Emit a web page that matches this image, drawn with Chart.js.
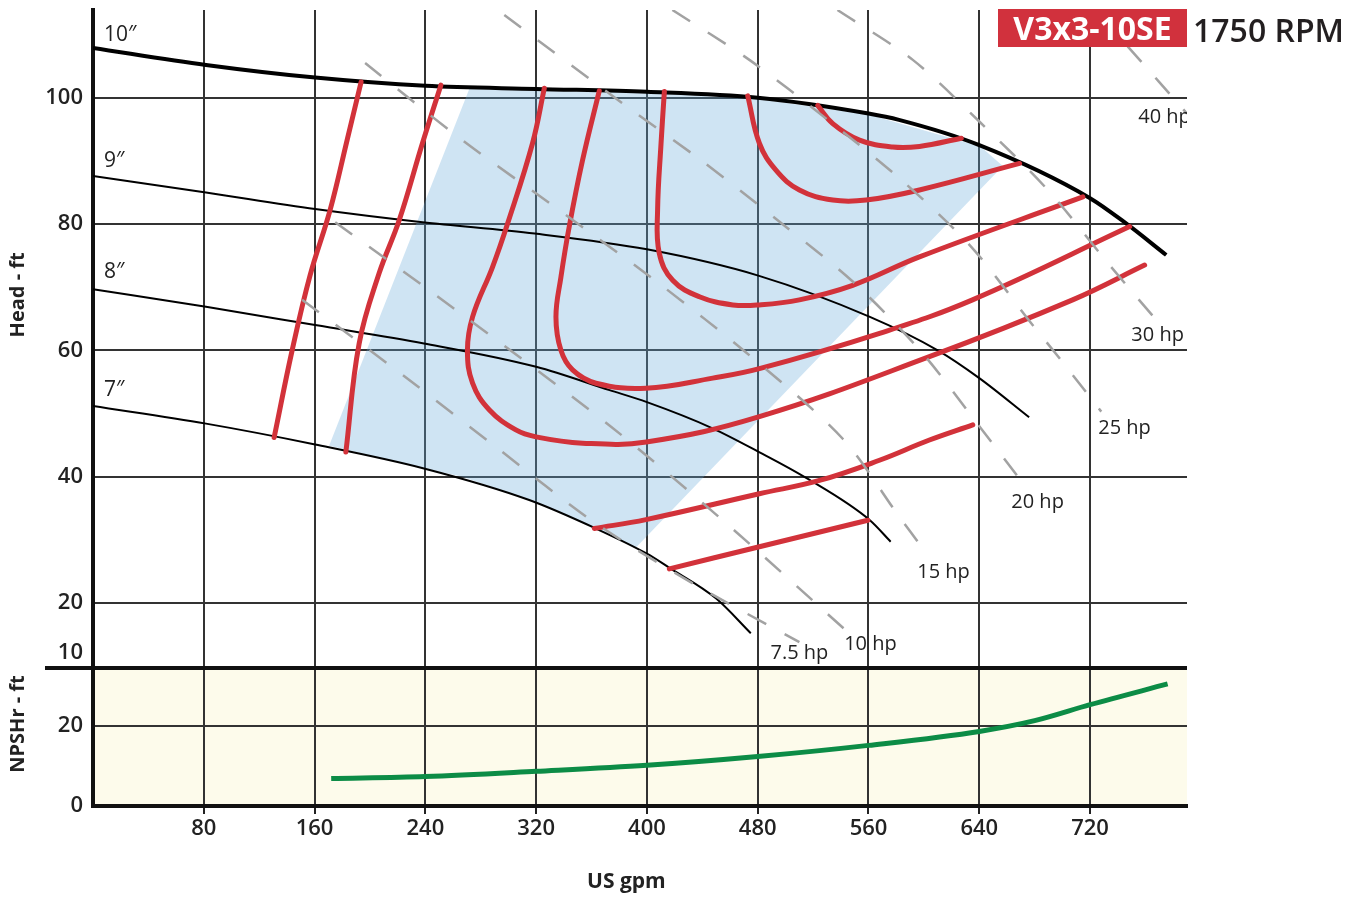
<!DOCTYPE html>
<html>
<head>
<meta charset="utf-8">
<script src="https://cdn.jsdelivr.net/npm/chart.js@4.4.1/dist/chart.umd.min.js"></script>
<style>
  body { margin: 0; background: #fff; font-family: 'Open Sans', sans-serif; }
  #wrap { position: relative; width: 1364px; height: 899px; }
  #pumpChart { position: absolute; left: 0; top: 0; }
  .model { position: absolute; left: 998px; top: 9px; width: 189px; height: 38px; background: #d1313d;
           color: #fff; font: 700 32px 'Open Sans'; line-height: 38px; text-align: center; }
  .rpm { position: absolute; left: 1193px; top: 8px; line-height: 38px; font: 600 32px 'Open Sans'; color: #231f20; }
</style>
</head>
<body>
<div id="wrap">
  <canvas id="pumpChart" width="1364" height="899"></canvas>
  <div class="model">V3x3-10SE</div>
  <div class="rpm">1750 RPM</div>
</div>
<script>
// ticks
const xTickValues = [0, 80, 160, 240, 320, 400, 480, 560, 640, 720];
const headTickValues = [10, 20, 40, 60, 80, 100];
const npshTickValues = [0, 20];

// impeller curves [gpm, head ft]
const dia10 = [[0,107.9],[81.6,105.2],[160.4,103.2],[240,101.9],[320,101.4],[400,100.95],[480,100.0],[560,97.5],[582,96.5],[640,92.5],[720,84.1],[746,80.1],[775,75.1]];
const dia9 = [[0,87.6],[81.6,85.0],[160.4,82.4],[238,80.3],[319,78.5],[400,76.0],[481,71.8],[561,65.3],[610,60.0],[640,55.6],[676,49.4]];
const dia8 = [[0,69.7],[81.6,66.9],[160.4,64.0],[239,61.1],[320,57.4],[373,53.7],[400,51.8],[447,47.7],[481,43.9],[515,39.8],[561,33.1],[576,29.7]];
const dia7 = [[0,51.2],[81.6,48.4],[160.4,45.1],[239,41.3],[315,36.3],[363,31.8],[400,27.8],[416,25.6],[450,20.7],[475,15.2]];
const diaLabels = [['10″', 8, 109.9], ['9″', 8, 90.0], ['8″', 8, 72.4], ['7″', 8, 53.7]];

// efficiency curves [gpm, head ft]
const eff1 = [[130.8,46.2],[143.8,60],[156.8,71.9],[171.2,82.2],[183.5,93.3],[193.6,102.5]];
const eff2 = [[182.6,43.9],[192.2,61.1],[206.6,72.2],[221.1,80.6],[237.9,92.8],[251.2,102.0]];
const eff3 = [[325.9,101.5],[317.4,92.8],[299.4,80.1],[288.5,73.2],[274.1,65.3],[270.4,60.0],[274.1,54.8],[286.1,50.6],[305.4,47.4],[319.9,46.3],[353.5,45.3],[399.6,45.5],[481.2,49.5],[604,59.0],[707.4,68.0],[759.4,73.5]];
const eff4 = [[365.6,101.1],[353.5,90.1],[343.9,79.6],[337.9,71.6],[334.3,65.3],[337.9,60.0],[346.3,56.9],[363.2,54.8],[399.3,54.0],[447.5,55.6],[481.2,57.1],[568,62.7],[635.1,68.0],[748.6,79.6]];
const eff5 = [[412.6,101.0],[410.2,92.8],[407.7,82.2],[408.9,75.4],[418.6,71.1],[437.9,68.5],[462,67.2],[481.2,67.2],[510.1,68.0],[548.6,70.3],[596.8,74.8],[714.8,84.3]];
const eff6 = [[472.8,100.3],[481.2,92.8],[493.3,88.5],[510.1,85.4],[534.2,83.8],[558.3,83.8],[596.8,85.4],[669.1,89.6]];
const eff7 = [[523.3,98.8],[534.2,95.9],[553.5,93.3],[577.5,92.2],[596.8,92.3],[627,93.6]];
const eff8 = [[362,31.8],[399.3,33.2],[481.2,37.3],[524.6,39.4],[567.9,42.6],[604,45.8],[635.3,48.2]];
const eff9 = [[416.2,25.4],[481.2,28.9],[559.5,33.1]];

// preferred operating region
const bestRegion = [[271.7,101.4],[170.5,44.9],[239.2,41.3],[266.6,40.0],[315,36.3],[336.7,34.5],[363.2,31.8],[392.1,28.8],[657,89.2],[640.9,92.3],[560.7,97.3],[480.5,99.8],[400,100.8],[320,101.2],[271.7,101.4]];

// power lines
const hp7_5 = [[151,68.0],[223.6,56.1],[292.1,44.5],[361.8,32.8],[435.5,22.8],[510.1,13.8]];
const hp10 = [[174.9,80.3],[262.1,66.4],[374.1,47.9],[454.7,33.1],[545,15.4]];
const hp15 = [[196.5,105.5],[266.6,93.3],[336.7,82.2],[407.5,70.8],[475.2,59.0],[541.4,46.0],[582.4,33.6],[599,28.7]];
const hp20 = [[297,113.1],[382.4,99.1],[439.1,90.1],[494.4,80.6],[548.6,70.9],[598,59.8],[641.4,47.6],[672.7,38.6]];
const hp25 = [[418.4,113.9],[474,106],[529.4,96.7],[583.6,87.0],[634.2,76.4],[677.5,64.3],[699.2,58.4],[728.1,50.3]];
const hp30 = [[537.6,113.9],[592,106],[640.2,96.2],[689.5,85.4],[734.1,73.5],[769,64.5]];
const hp40 = [[726.9,113.1],[755.8,106],[783.2,99.2],[790,97.5]];
const hpLabels = [['7.5 hp',510.1,12.0],['10 hp',561.4,13.4],['15 hp',614.2,24.9],['20 hp',682.1,36.0],['25 hp',744.9,47.7],['30 hp',768.8,62.4],['40 hp',773.8,96.9]];

// NPSHr [gpm, ft]
const npshCurve = [[172,6.9],[240,7.4],[320,8.7],[400,10.2],[480,12.4],[560,15.2],[640,18.7],[680,21.4],[720,25.4],[776,30.6]];

const FONT = "'Open Sans', sans-serif";
Chart.defaults.font.family = FONT;
Chart.defaults.color = '#222';

function pts(arr) {
    return arr.map(p => ({ x: p[0], y: p[1] }));
}

const datasets = [];

datasets.push({
    data: pts(bestRegion), yAxisID: 'head', showLine: true, tension: 0,
    borderWidth: 0, borderColor: 'rgba(0,0,0,0)', backgroundColor: 'rgba(100,168,216,0.31)',
    fill: 'shape', pointRadius: 0, order: 4
});

[dia10, dia9, dia8, dia7].forEach((d, i) => {
    datasets.push({
        data: pts(d), yAxisID: 'head', showLine: true, cubicInterpolationMode: 'monotone',
        borderColor: '#000', borderWidth: i === 0 ? 4 : 2, pointRadius: 0, fill: false, order: 3
    });
});

[eff1, eff2, eff3, eff4, eff5, eff6, eff7, eff8, eff9].forEach(d => {
    datasets.push({
        data: pts(d), yAxisID: 'head', showLine: true, tension: 0.4,
        borderColor: 'rgb(210,50,58)', borderWidth: 5, borderCapStyle: 'round',
        pointRadius: 0, fill: false, order: 2
    });
});

[hp7_5, hp10, hp15, hp20, hp25, hp30, hp40].forEach(d => {
    datasets.push({
        data: pts(d), yAxisID: 'head', showLine: true, tension: 0.3,
        borderColor: '#a2a2a2', borderWidth: 2.5, borderDash: [21, 21],
        pointRadius: 0, fill: false, order: 1
    });
});

datasets.push({
    data: pts(npshCurve), yAxisID: 'npsh', showLine: true, cubicInterpolationMode: 'monotone',
    borderColor: 'rgb(12,140,70)', borderWidth: 5, pointRadius: 0, fill: false, order: 2
});

const panelPlugin = {
    id: 'panels',
    beforeDraw(chart) {
        const ctx = chart.ctx;
        const area = chart.chartArea;
        const npsh = chart.scales.npsh;
        ctx.save();
        ctx.fillStyle = '#fff';
        ctx.fillRect(0, 0, chart.width, chart.height);
        ctx.fillStyle = '#fdfbeb';
        ctx.fillRect(area.left, npsh.top, area.right - area.left, npsh.bottom - npsh.top);
        ctx.restore();
    },
    afterDatasetsDraw(chart) {
        const ctx = chart.ctx;
        const area = chart.chartArea;
        const x = chart.scales.x;
        const head = chart.scales.head;
        const npsh = chart.scales.npsh;

        // divider between head and NPSHr panels
        ctx.save();
        ctx.strokeStyle = '#111';
        ctx.lineWidth = 4;
        ctx.beginPath();
        ctx.moveTo(45, npsh.top);
        ctx.lineTo(area.right, npsh.top);
        ctx.stroke();

        ctx.beginPath();
        ctx.rect(area.left, area.top, area.right - area.left, head.bottom - area.top);
        ctx.clip();
        ctx.fillStyle = '#222';
        ctx.textBaseline = 'middle';
        ctx.font = "400 20px " + FONT;
        ctx.textAlign = 'center';
        hpLabels.forEach(l => {
            ctx.fillText(l[0], x.getPixelForValue(l[1]), head.getPixelForValue(l[2]));
        });
        ctx.textAlign = 'left';
        ctx.font = "400 21px " + FONT;
        diaLabels.forEach(l => {
            ctx.fillText(l[0], x.getPixelForValue(l[1]), head.getPixelForValue(l[2]));
        });
        ctx.restore();
    }
};

const tickFont = { family: FONT, size: 22, weight: 600 };
const titleFont = { family: FONT, size: 20, weight: 700 };

function fitLeft(s) {
    s.width = 93;
    s.paddingTop = 0;
    s.paddingBottom = 0;
}

new Chart(document.getElementById('pumpChart').getContext('2d'), {
    type: 'scatter',
    data: { datasets: datasets },
    options: {
        responsive: false,
        animation: false,
        events: [],
        layout: { padding: { top: 10, right: 177, left: 0, bottom: 0 } },
        plugins: { legend: { display: false }, tooltip: { enabled: false } },
        scales: {
            x: {
                type: 'linear', min: 0, max: 790,
                afterBuildTicks: s => { s.ticks = xTickValues.map(v => ({ value: v })); },
                afterFit: s => { s.height = 93; s.paddingLeft = 0; s.paddingRight = 0; },
                ticks: { callback: v => v === 0 ? '' : v, font: tickFont, color: '#222', padding: 2, autoSkip: false, maxRotation: 0 },
                grid: { color: '#333', lineWidth: 2, tickLength: 8, tickColor: c => (c.tick && c.tick.value === 0) ? 'rgba(0,0,0,0)' : '#222', tickWidth: 2 },
                border: { color: '#111', width: 4 },
                title: { display: true, text: 'US gpm' + ' '.repeat(5), font: { family: FONT, size: 21, weight: 700 }, color: '#222', padding: { top: 16 } }
            },
            npsh: {
                type: 'linear', position: 'left', stack: 'left', stackWeight: 138,
                min: 0, max: 34.6,
                afterBuildTicks: s => { s.ticks = npshTickValues.map(v => ({ value: v })); },
                afterFit: fitLeft,
                ticks: { font: tickFont, color: '#222', padding: 10 },
                grid: { color: '#333', lineWidth: 2, drawTicks: false },
                border: { color: '#111', width: 4 },
                title: { display: true, text: ' '.repeat(5) + 'NPSHr - ft', font: titleFont, color: '#222', padding: { top: 6, bottom: 0 } }
            },
            head: {
                type: 'linear', position: 'left', stack: 'left', stackWeight: 658,
                min: 9.7, max: 113.9,
                afterBuildTicks: s => { s.ticks = headTickValues.map(v => ({ value: v })); },
                afterFit: fitLeft,
                ticks: { callback: v => v === 10 ? ['10', ''] : String(v), font: tickFont, color: '#222', padding: 10 },
                grid: { color: c => (c.tick && c.tick.value === 10) ? 'rgba(0,0,0,0)' : '#333', lineWidth: 2, drawTicks: false },
                border: { color: '#111', width: 4 },
                title: { display: true, text: ' '.repeat(17) + 'Head - ft', font: titleFont, color: '#222', padding: { top: 6, bottom: 0 } }
            }
        }
    },
    plugins: [panelPlugin]
});
</script>
</body>
</html>
